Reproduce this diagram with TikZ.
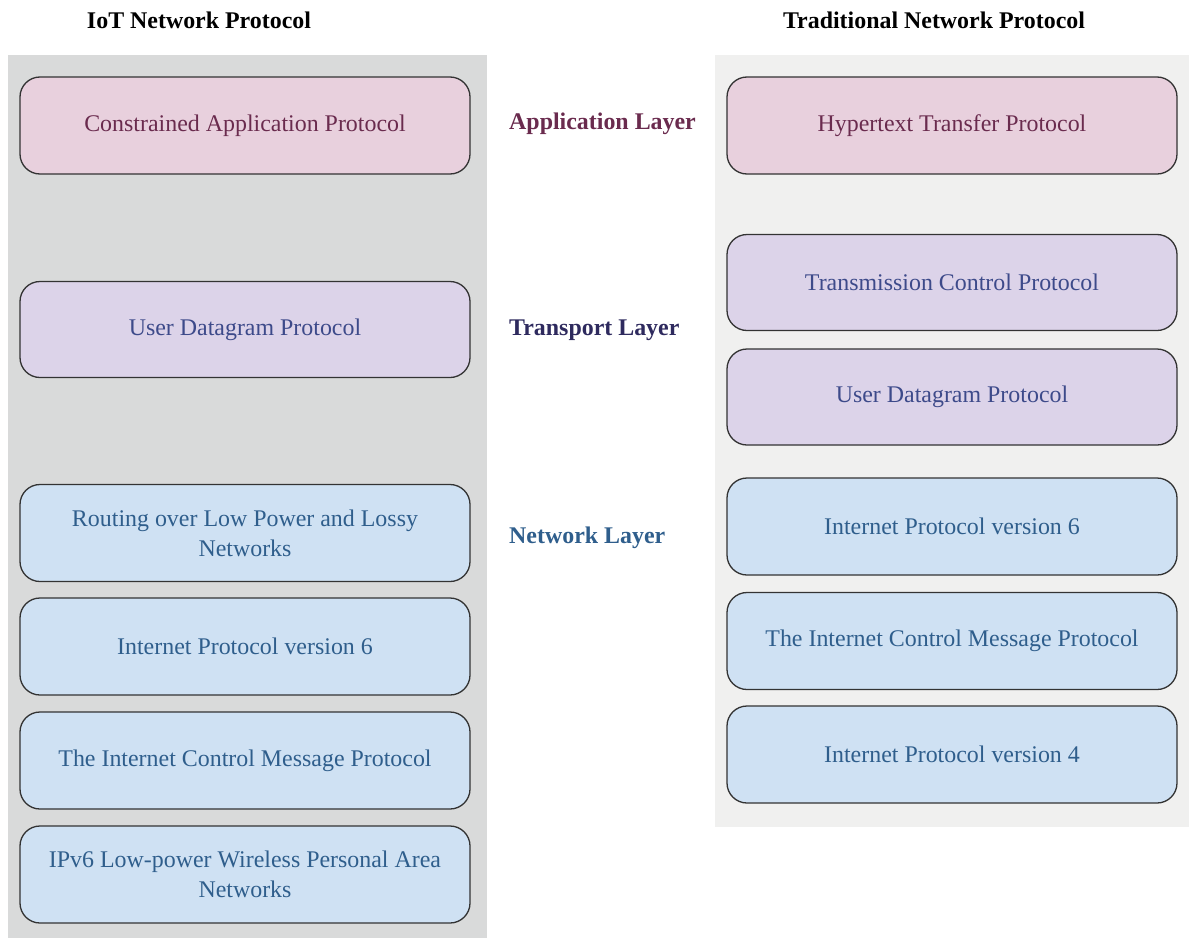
\documentclass[tikz,border=0pt]{standalone}
\usepackage{fontspec}
\setmainfont{Liberation Serif}
\usetikzlibrary{positioning}
\definecolor{iotgray}{HTML}{D9DADA}
\definecolor{tradgray}{HTML}{F0F0EF}
\definecolor{appfill}{HTML}{E8D0DD}
\definecolor{trnfill}{HTML}{DCD3E9}
\definecolor{netfill}{HTML}{CFE1F3}
\definecolor{apptext}{HTML}{6A2B4E}
\definecolor{trntext}{HTML}{3D4A8A}
\definecolor{nettext}{HTML}{2F5E8C}
\definecolor{trnlabel}{HTML}{2E2A5E}
\definecolor{boxline}{HTML}{333333}
\tikzstyle{proto}=[shape=rectangle, draw=boxline, line width=1.3bp, rounded corners=20bp, minimum width=450bp, align=center, font=\fontsize{24}{30}\selectfont]
\tikzstyle{app}=[proto, fill=appfill, text=apptext, minimum height=97bp]
\tikzstyle{trn}=[proto, fill=trnfill, text=trntext, minimum height=96bp]
\tikzstyle{net}=[proto, fill=netfill, text=nettext, minimum height=97bp]
\tikzstyle{ttl}=[font=\bfseries\fontsize{24}{30}\selectfont]
\tikzstyle{lyr}=[font=\bfseries\fontsize{24}{30}\selectfont, anchor=west]

\begin{document}
\begin{tikzpicture}[x=1bp,y=-1bp,inner sep=0pt]
\useasboundingbox (0,0) rectangle (1189,938);

% panels
\fill[iotgray] (8,55) rectangle (487,938);
\fill[tradgray] (715,55) rectangle (1189,827);

% titles
\node (iot) [ttl] at (199,20) {IoT Network Protocol};
\node (trad) [ttl] at (934,20) {Traditional Network Protocol};

% IoT stack
\node (coap) [app] at (245,125.5) {Constrained Application Protocol};
\node (udpl) [trn] at (245,329.5) {User Datagram Protocol};
\node (rpl) [net] at (245,533) {Routing over Low Power and Lossy\\Networks};
\node (ipvsixl) [net] at (245,646.5) {Internet Protocol version 6};
\node (icmpl) [net] at (245,760.5) {The Internet Control Message Protocol};
\node (lowpan) [net] at (245,874.5) {IPv6 Low-power Wireless Personal Area\\Networks};

% traditional stack
\node (http) [app] at (952,125.5) {Hypertext Transfer Protocol};
\node (tcp) [trn] at (952,282.5) {Transmission Control Protocol};
\node (udpr) [trn] at (952,397) {User Datagram Protocol};
\node (ipvsixr) [net] at (952,526.5) {Internet Protocol version 6};
\node (icmpr) [net] at (952,641) {The Internet Control Message Protocol};
\node (ipvfour) [net] at (952,754.5) {Internet Protocol version 4};

% layer names
\node (applyr) [lyr, text=apptext] at (509,124) {Application Layer};
\node (trnlyr) [lyr, text=trnlabel] at (509,330) {Transport Layer};
\node (netlyr) [lyr, text=nettext] at (509,538) {Network Layer};

\end{tikzpicture}
\end{document}
